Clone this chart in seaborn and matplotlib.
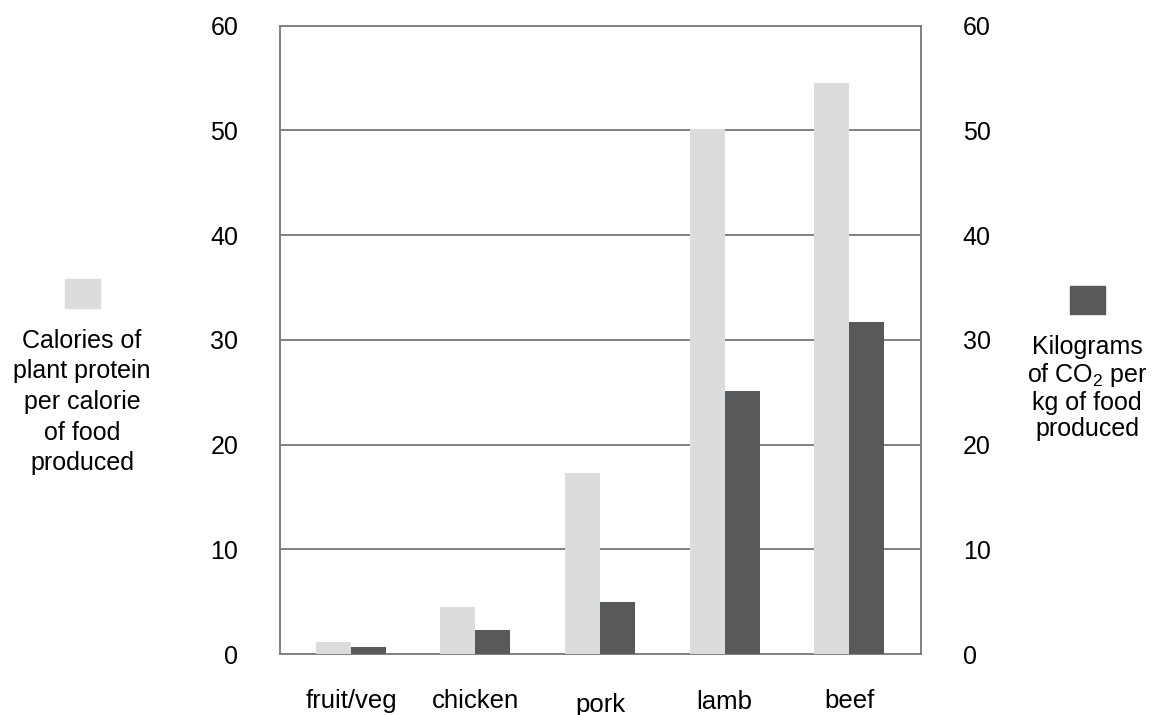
import pandas as pd
import matplotlib.pyplot as plt
import seaborn as sns
from matplotlib.transforms import ScaledTranslation
from matplotlib.patches import Rectangle

# data
foods = ['fruit/veg', 'chicken', 'pork', 'lamb', 'beef']
calories = [1.1, 4.5, 17.3, 50.1, 54.5]
co2 = [0.7, 2.3, 5.0, 25.1, 31.7]
series = ['calories', 'co2']

light = '#dbdcde'
dark = '#58595b'
grid_col = '#808080'

df = pd.DataFrame({
    'food': foods * 2,
    'value': calories + co2,
    'series': [series[0]] * len(foods) + [series[1]] * len(foods),
})

sns.set_style('white')
plt.rcParams['font.family'] = ['Liberation Sans', 'DejaVu Sans']
plt.rcParams['mathtext.default'] = 'regular'
plt.rcParams['text.color'] = 'black'
plt.rcParams['xtick.color'] = 'black'
plt.rcParams['ytick.color'] = 'black'

fig = plt.figure(figsize=(11.58, 7.15), dpi=100)
ax = fig.add_axes([280 / 1158, 61 / 715, 641 / 1158, 628.3 / 715])

sns.barplot(data=df, x='food', y='value', hue='series', order=foods,
            hue_order=series, palette=[light, dark], width=0.562,
            saturation=1, legend=False, linewidth=0, ax=ax, zorder=3)

ax.set_xlim(-0.57, 4.578)
ax.set_ylim(0, 60)
ax.set_yticks(range(0, 61, 10))
ax.set_xlabel('')
ax.set_ylabel('')
ax.grid(axis='y', color=grid_col, linewidth=1.4, zorder=0)
ax.set_axisbelow(True)
for s in ax.spines.values():
    s.set_color(grid_col)
    s.set_linewidth(1.4)
ax.tick_params(axis='y', length=0, pad=30, labelsize=18, labelcolor='black')
ax.tick_params(axis='x', length=0, pad=25, labelsize=18.5, labelcolor='black')

# pork and lamb labels sit a little lower
shift = {'pork': 3, 'lamb': 1}
for lab in ax.get_xticklabels():
    if lab.get_text() in shift:
        dy = shift[lab.get_text()]
        lab.set_transform(lab.get_transform() + ScaledTranslation(0, -dy / 72, fig.dpi_scale_trans))

ax2 = ax.twinx()
ax2.set_ylim(0, 60)
ax2.set_yticks(range(0, 61, 10))
ax2.tick_params(axis='y', length=0, pad=30, labelsize=18, labelcolor='black')
for s in ax2.spines.values():
    s.set_visible(False)

# side keys
fig.patches.append(Rectangle((65 / 1158, 1 - 308 / 715), 35 / 1158, 29 / 715,
                             transform=fig.transFigure, color=light))
fig.text(82 / 1158, 1 - 402 / 715,
         'Calories of\nplant protein\nper calorie\nof food\nproduced',
         ha='center', va='center', fontsize=18, linespacing=1.35, color='black')

fig.patches.append(Rectangle((1070 / 1158, 1 - 314 / 715), 35 / 1158, 28 / 715,
                             transform=fig.transFigure, color=dark))
fig.text(1087 / 1158, 1 - 388 / 715,
         'Kilograms\nof CO$_2$ per\nkg of food\nproduced',
         ha='center', va='center', fontsize=18, linespacing=1.1, color='black')

fig.savefig('out.png', dpi=100)
